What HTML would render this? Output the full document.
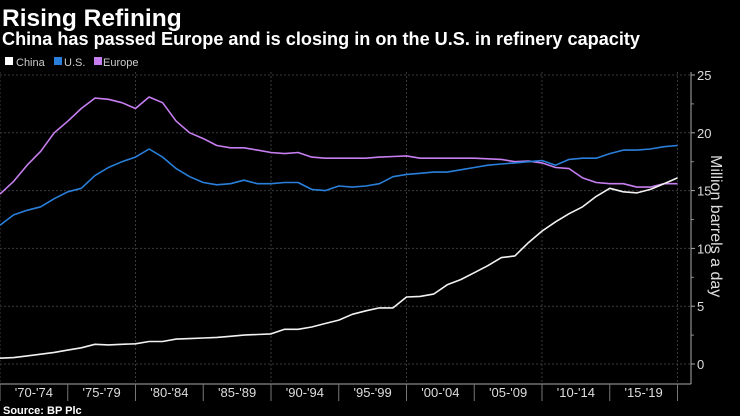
<!DOCTYPE html>
<html><head><meta charset="utf-8"><style>
html,body{margin:0;padding:0;background:#000;width:740px;height:416px;overflow:hidden}
svg{display:block;font-family:"Liberation Sans",sans-serif}
</style></head><body>
<svg id="s" width="740" height="416" viewBox="0 0 740 416">
<text x="2" y="26" fill="#fff" font-size="24.5" font-weight="bold">Rising Refining</text>
<text x="2" y="45" fill="#fff" font-size="18" font-weight="bold" textLength="638" lengthAdjust="spacingAndGlyphs">China has passed Europe and is closing in on the U.S. in refinery capacity</text>
<rect x="5" y="57" width="8" height="8" fill="#fff"/><text x="16" y="66" fill="#ccc" font-size="11">China</text>
<rect x="54" y="57" width="8" height="8" fill="#2a7fdb"/><text x="64" y="66" fill="#ccc" font-size="11">U.S.</text>
<rect x="94" y="57" width="8" height="8" fill="#c77ef0"/><text x="103" y="66" fill="#ccc" font-size="11">Europe</text>
<text x="3" y="414" fill="#fff" font-size="11" font-weight="bold">Source: BP Plc</text>
<g id="g"></g>
</svg>
<script>
var g=document.getElementById('g'),h='';
function Y(v){return 364-v*11.56}
function X(yr){return (yr-1970)*13.55}
[0,5,10,15,20,25].forEach(function(v){var y=Y(v);
h+='<line x1="0" x2="691" y1="'+y+'" y2="'+y+'" stroke="#3a3a3a" stroke-dasharray="2,2"/>';
h+='<line x1="691" x2="695" y1="'+y+'" y2="'+y+'" stroke="#aaa"/>';
h+='<text x="697" y="'+(y+5)+'" fill="#ddd" font-size="13">'+v+'</text>';
if(v<25)h+='<line x1="691" x2="694" y1="'+Y(v+2.5)+'" y2="'+Y(v+2.5)+'" stroke="#888"/>';});
[1970,1980,1990,2000,2010,2020].forEach(function(yr){var x=X(yr);
h+='<line x1="'+x+'" x2="'+x+'" y1="72" y2="384" stroke="#3a3a3a" stroke-dasharray="2,2"/>';});
h+='<line x1="691" x2="691" y1="72" y2="384" stroke="#aaa"/><line x1="0" x2="691" y1="384" y2="384" stroke="#aaa"/>';
var labs=["'70-'74","'75-'79","'80-'84","'85-'89","'90-'94","'95-'99","'00-'04","'05-'09","'10-'14","'15-'19"];
for(var i=0;i<labs.length;i++){var x0=X(1970+5*i);
h+='<line x1="'+x0+'" x2="'+x0+'" y1="384" y2="401" stroke="#777"/>';
h+='<text x="'+(x0+33.9)+'" y="397" fill="#ddd" font-size="13" text-anchor="middle">'+labs[i]+'</text>';}
h+='<line x1="'+X(2020)+'" x2="'+X(2020)+'" y1="384" y2="401" stroke="#777"/>';
h+='<text transform="translate(711,155) rotate(90)" fill="#ddd" font-size="16">Million barrels a day</text>';
var china=[0.5,0.55,0.7,0.85,1.0,1.2,1.4,1.7,1.65,1.7,1.75,1.95,1.95,2.15,2.2,2.25,2.3,2.4,2.5,2.55,2.6,3.0,3.0,3.2,3.5,3.8,4.3,4.6,4.85,4.85,5.8,5.85,6.05,6.85,7.3,7.9,8.5,9.2,9.35,10.5,11.5,12.3,13.0,13.6,14.5,15.2,14.9,14.8,15.1,15.6,16.1];
var us=[12.0,12.9,13.3,13.6,14.3,14.9,15.2,16.3,17.0,17.5,17.9,18.6,17.9,16.9,16.2,15.7,15.5,15.6,15.9,15.6,15.6,15.7,15.7,15.1,15.0,15.4,15.3,15.4,15.6,16.2,16.4,16.5,16.6,16.6,16.8,17.0,17.2,17.3,17.4,17.5,17.6,17.2,17.7,17.8,17.8,18.2,18.5,18.5,18.6,18.8,18.9];
var eu=[14.7,15.8,17.2,18.4,20.0,21.0,22.1,23.0,22.9,22.6,22.1,23.1,22.6,21.0,20.0,19.5,18.9,18.7,18.7,18.5,18.3,18.2,18.3,17.9,17.8,17.8,17.8,17.8,17.9,17.95,18.0,17.8,17.8,17.8,17.8,17.8,17.75,17.7,17.5,17.55,17.4,17.0,16.9,16.1,15.7,15.6,15.6,15.3,15.3,15.6,15.6];
function line(d,c){var p=d.map(function(v,i){return X(1970+i).toFixed(1)+','+Y(v).toFixed(1)}).join(' ');
h+='<polyline points="'+p+'" fill="none" stroke="'+c+'" stroke-width="1.6" stroke-linejoin="round"/>';}
line(eu,'#c77ef0');line(us,'#2a7fdb');line(china,'#f2f2f2');
g.innerHTML=h;
</script>
</body></html>
